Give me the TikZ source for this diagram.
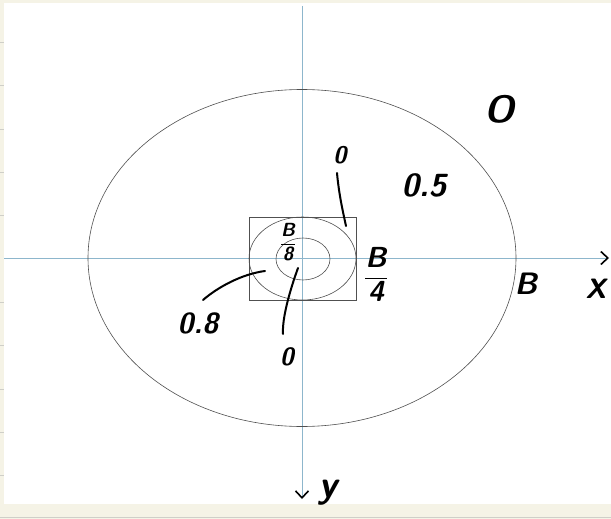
\documentclass[tikz,border=0pt]{standalone}
\usetikzlibrary{arrows.meta}
\definecolor{paper}{HTML}{F5F3E6}
\definecolor{axisblue}{HTML}{8DB6CC}
\definecolor{shapegray}{HTML}{505050}
\definecolor{tickgray}{HTML}{CFCFC8}
\newcommand{\hfs}[1]{\fontsize{#1}{#1}\selectfont}
\newcommand{\hw}{\sffamily\slshape\bfseries}
\begin{document}
\begin{tikzpicture}[x=1pt,y=-1pt,
  hand/.style={text=black, inner sep=0pt},
  axisline/.style={draw=axisblue, line width=1pt},
  contour/.style={draw=shapegray, line width=0.6pt},
  leader/.style={draw=black, line width=2pt, line cap=round},
  tipv/.style={-{Straight Barb[color=black,length=7pt,width=13pt,line width=1.6pt]}}
]
\useasboundingbox (0,0) rectangle (611,519);
\fill[paper] (0,0) rectangle (611,519);
\fill[white] (4,3) rectangle (611,504);
\foreach \t in {42.7,85.7,129,172,215.7,302,345.7,389,432,475.7}
  \draw[tickgray, line width=1pt] (0,\t) -- (4,\t);
\draw[tickgray, line width=0.6pt] (0,517) -- (611,517);

% axes
\coordinate (O) at (302,258);
\coordinate (xl) at (4,258);
\coordinate (xr) at (609,258);
\coordinate (yt) at (302,6);
\coordinate (yb) at (302,499);
\draw[axisline, tipv] (xl) -- (xr);
\draw[axisline, tipv] (yt) -- (yb);

% contours
\draw[contour] (O) ellipse [x radius=214pt, y radius=168.5pt];
\draw[contour] (249,217) rectangle (356,300);
\draw[contour] (302.5,258.5) ellipse [x radius=53.5pt, y radius=41.5pt];
\draw[contour] (303,259) ellipse [x radius=27pt, y radius=21pt];

% labels
\node[hand, font=\hw\hfs{38}] (lO) at (500,109) {O};
\node[hand, font=\hw\hfs{24}] (l0t) at (340,155) {0};
\node[hand, font=\hw\hfs{32}] (l05) at (424,185) {0.5};
\node[hand, font=\hfs{19}] (lB8) at (288,242) {$\displaystyle\frac{\textsf{\slshape\bfseries B}}{\textsf{\slshape\bfseries 8}}$};
\node[hand, font=\hfs{29}] (lB4) at (376,274) {$\displaystyle\frac{\textsf{\slshape\bfseries B}}{\textsf{\slshape\bfseries 4}}$};
\node[hand, font=\hw\hfs{31}] (lB) at (526,284) {B};
\node[hand, font=\hw\hfs{28}] (lX) at (596,289) {X};
\node[hand, font=\hw\hfs{29}] (l08) at (198,323) {0.8};
\node[hand, font=\hw\hfs{25}] (l0b) at (287,357) {0};
\node[hand, font=\hw\hfs{38}] (ly) at (328,493) {y};

% leader strokes
\coordinate (a1) at (337,173);
\coordinate (a2) at (346,226);
\draw[leader] (a1) .. controls (339,195) and (343,212) .. (a2);
\coordinate (b1) at (203,300);
\coordinate (b2) at (265,271);
\draw[leader] (b1) .. controls (218,287) and (242,274) .. (b2);
\coordinate (c1) at (298,268);
\coordinate (c2) at (283,334);
\draw[leader] (c1) .. controls (290,290) and (282,318) .. (c2);
\end{tikzpicture}
\end{document}
